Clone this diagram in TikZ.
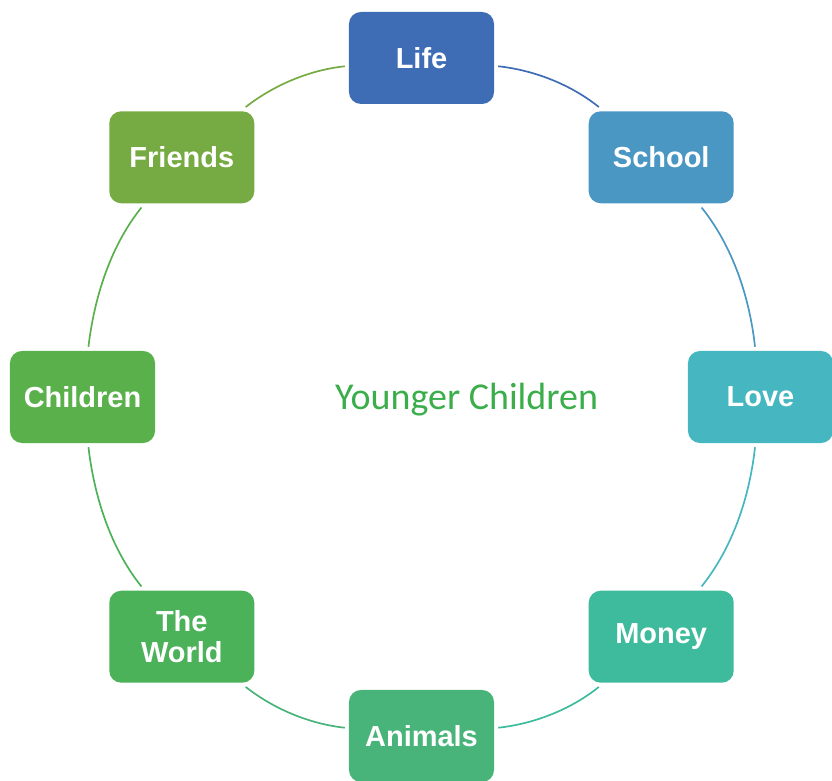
\documentclass[tikz,border=0pt]{standalone}
\usepackage{fontspec}
\setmainfont{Liberation Sans}
\newfontfamily\calibrifont{Carlito}
\usepackage{xcolor}
\usepackage{tikz}
\usetikzlibrary{arrows.meta,positioning}

\definecolor{cLife}{HTML}{3F6DB5}
\definecolor{cSchool}{HTML}{4A97C3}
\definecolor{cLove}{HTML}{46B6C0}
\definecolor{cMoney}{HTML}{3EBB9C}
\definecolor{cAnimals}{HTML}{49B47A}
\definecolor{cWorld}{HTML}{4CB25A}
\definecolor{cChildren}{HTML}{5AB14C}
\definecolor{cFriends}{HTML}{76AA42}
\definecolor{cTitle}{HTML}{3BAE4B}

\begin{document}
\begin{tikzpicture}[
    x=0.025cm, y=0.025cm,
    topic/.style={rounded corners=0.3cm, align=center, minimum width=3.625cm, minimum height=2.3cm,
      inner sep=2pt, outer sep=3pt, text=white, font=\fontsize{20.6}{21.5}\selectfont\bfseries},
    ring/.style={line width=1.2pt}
  ]
    \useasboundingbox (0,0) rectangle (832,780);
    \coordinate (ctr) at (421.5,383);

    % eight topics round the circle, radius 339
    \node[topic, fill=cLife] (life) at ([shift={(90:339)}]ctr) {Life};
    \node[topic, fill=cSchool] (school) at ([shift={(45:339)}]ctr) {School};
    \node[topic, fill=cLove] (love) at ([shift={(0:339)}]ctr) {Love};
    \node[topic, fill=cMoney] (money) at ([shift={(-45:339)}]ctr) {Money};
    \node[topic, fill=cAnimals] (animals) at ([shift={(-90:339)}]ctr) {Animals};
    \node[topic, fill=cWorld] (world) at ([shift={(-135:339)}]ctr) {The\\World};
    \node[topic, fill=cChildren] (children) at ([shift={(180:339)}]ctr) {Children};
    \node[topic, fill=cFriends] (friends) at ([shift={(135:339)}]ctr) {Friends};

    \node[text=cTitle, font=\calibrifont\fontsize{27}{30}\selectfont] (title) at ([xshift=32, yshift=-2]ctr) {Younger Children};

    % arcs, clockwise, coloured like the topic they leave
    \foreach \src/\dst/\ang/\col in {life/school/90/cLife, school/love/45/cSchool, love/money/0/cLove,
        money/animals/-45/cMoney, animals/world/-90/cAnimals, world/children/-135/cWorld,
        children/friends/180/cChildren, friends/life/135/cFriends}
    {
      \pgfmathsetmacro{\aout}{\ang-96.5}
      \pgfmathsetmacro{\ain}{\ang+51.5}
      \draw[ring, draw=\col] (\src) to[out=\aout, in=\ain, looseness=0.85] (\dst);
    }
  \end{tikzpicture}
\end{document}
